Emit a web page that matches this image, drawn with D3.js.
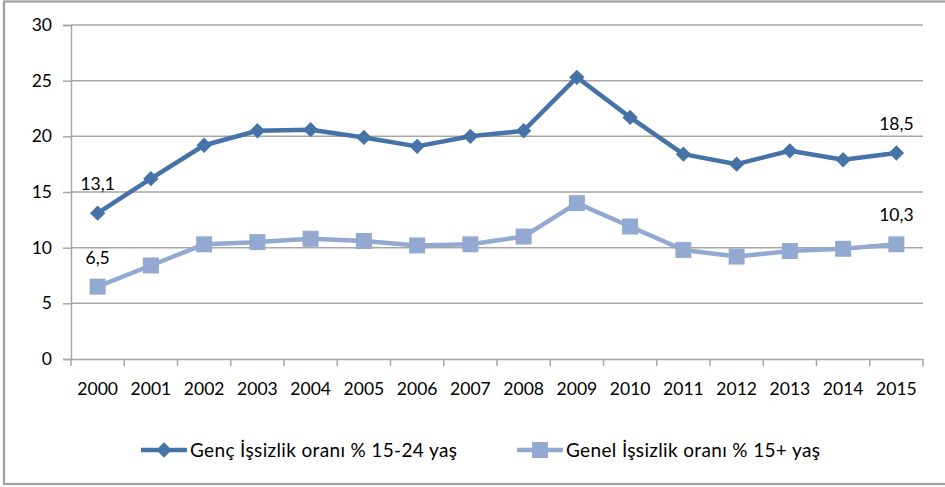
<!DOCTYPE html>
<html><head><meta charset="utf-8">
<script src="https://cdn.jsdelivr.net/npm/d3@7/dist/d3.min.js"></script>
<style>html,body{margin:0;padding:0;background:#fff;}svg{display:block;font-family:Lato,"Open Sans",sans-serif;}</style>
</head><body>
<svg id="chart" width="945" height="487"></svg>
<script>
const years = ["2000","2001","2002","2003","2004","2005","2006","2007","2008","2009","2010","2011","2012","2013","2014","2015"];
const youth = [13.1,16.2,19.2,20.5,20.6,19.9,19.1,20.0,20.5,25.3,21.7,18.4,17.5,18.7,17.9,18.5];
const general = [6.5,8.4,10.3,10.5,10.8,10.6,10.2,10.3,11.0,14.0,11.9,9.8,9.2,9.7,9.9,10.3];
const yTicks = [0,5,10,15,20,25,30];
const seriesNames = ["Genç İşsizlik oranı % 15-24 yaş","Genel İşsizlik oranı % 15+ yaş"];
const labelled = [0, 15];

const svg = d3.select("#chart");
const L = 71, R = 923, T = 25, B = 359;
const x = d3.scaleBand().domain(years).range([L, R]);
const y = d3.scaleLinear().domain([0, 30]).range([B, T]);
const grid = "#a6a6a6";
const c1 = "#4572a7", c2 = "#93a9d2";

// outer border
svg.append("rect").attr("x",4).attr("y",1.5).attr("width",945).attr("height",482.5)
  .attr("fill","none").attr("stroke","#a0a0a0").attr("stroke-width",2.2);

// gridlines
svg.append("g").selectAll("line").data(yTicks.filter(d=>d>0)).join("line")
  .attr("x1",L).attr("x2",R).attr("y1",d=>y(d)).attr("y2",d=>y(d))
  .attr("stroke",grid).attr("stroke-width",1.5);

// y axis
const yAxis = svg.append("g").attr("transform",`translate(${L},0)`)
  .call(d3.axisLeft(y).tickValues(yTicks).tickSize(8).tickPadding(11).tickFormat(d3.format("d")));
yAxis.select(".domain").attr("stroke",grid).attr("stroke-width",1.5);
yAxis.selectAll(".tick line").attr("stroke",grid).attr("stroke-width",1.5);
yAxis.selectAll("text").attr("font-size",17.5).attr("fill","#000").attr("font-family","Lato");

// x axis
const xAxis = svg.append("g").attr("transform",`translate(0,${B})`)
  .call(d3.axisBottom(x).tickSize(0).tickPadding(24));
xAxis.select(".domain").attr("stroke",grid).attr("stroke-width",1.5);
xAxis.selectAll("text").attr("font-size",17.5).attr("fill","#000").attr("font-family","Lato");
const bounds = years.map(d=>x(d)).concat([R]);
svg.append("g").selectAll("line").data(bounds).join("line")
  .attr("x1",d=>d).attr("x2",d=>d).attr("y1",B).attr("y2",B+7)
  .attr("stroke",grid).attr("stroke-width",1.5);

const cx = d => x(d) + x.bandwidth()/2;
const line = d3.line().x((d,i)=>cx(years[i])).y(d=>y(d));

// general series
svg.append("path").datum(general).attr("d",line).attr("fill","none")
  .attr("stroke",c2).attr("stroke-width",4.5).attr("stroke-linejoin","round");
svg.append("g").selectAll("rect").data(general).join("rect")
  .attr("x",(d,i)=>cx(years[i])-8).attr("y",d=>y(d)-8).attr("width",16).attr("height",16)
  .attr("fill",c2);

// youth series
svg.append("path").datum(youth).attr("d",line).attr("fill","none")
  .attr("stroke",c1).attr("stroke-width",4.5).attr("stroke-linejoin","round");
svg.append("g").selectAll("path").data(youth).join("path")
  .attr("d",d3.symbol().type(d3.symbolDiamond2).size(150))
  .attr("transform",(d,i)=>`translate(${cx(years[i])},${y(d)})`)
  .attr("fill",c1);

// data labels
const fmt = v => d3.format(".1f")(v).replace(".",",");
[youth, general].forEach(arr=>{
  svg.append("g").selectAll("text").data(labelled).join("text")
    .attr("x",i=>cx(years[i])).attr("y",i=>y(arr[i])-23)
    .attr("text-anchor","middle").attr("font-size",17.5).attr("fill","#000")
    .text(i=>fmt(arr[i]));
});

// legend
const ly = 450;
const lg1 = svg.append("g");
lg1.append("line").attr("x1",141).attr("x2",187).attr("y1",ly).attr("y2",ly).attr("stroke",c1).attr("stroke-width",4.5);
lg1.append("path").attr("d",d3.symbol().type(d3.symbolDiamond2).size(150)).attr("transform",`translate(164,${ly})`).attr("fill",c1);
lg1.append("text").attr("x",190).attr("y",ly).attr("dy","0.35em").attr("font-size",19).attr("letter-spacing",0.35).text(seriesNames[0]);

const lg2 = svg.append("g");
lg2.append("line").attr("x1",517).attr("x2",563).attr("y1",ly).attr("y2",ly).attr("stroke",c2).attr("stroke-width",4.5);
lg2.append("rect").attr("x",532).attr("y",ly-8).attr("width",16).attr("height",16).attr("fill",c2);
lg2.append("text").attr("x",566).attr("y",ly).attr("dy","0.35em").attr("font-size",19).attr("letter-spacing",0.35).text(seriesNames[1]);
</script>
</body></html>
